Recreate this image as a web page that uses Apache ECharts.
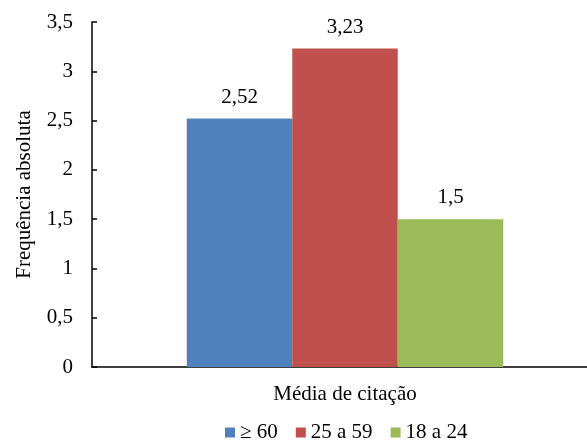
<!DOCTYPE html>
<html>
<head>
<meta charset="utf-8">
<script src="https://cdn.jsdelivr.net/npm/echarts@6/dist/echarts.min.js"></script>
<style>
  html, body { margin: 0; padding: 0; background: #fff; }
  #chart { width: 587px; height: 448px; }
</style>
</head>
<body>
<div id="chart"></div>
<script>
// Mean citation by age group
const categories = ['Média de citação'];
const seriesNames = ['\u2265 60', '25 a 59', '18 a 24'];
const seriesValues = [[2.52], [3.23], [1.5]];
const seriesColors = ['#4F81BD', '#C0504D', '#9BBB59'];
const yTicks = { min: 0, max: 3.5, interval: 0.5 };

const fontFamily = '"Liberation Serif", "Times New Roman", serif';
const fmt = v => String(v).replace('.', ',');

const chart = echarts.init(document.getElementById('chart'));
chart.setOption({
  animation: false,
  textStyle: { fontFamily: fontFamily, color: '#000' },
  // the x axis runs past the right edge of the canvas
  grid: { left: 92, width: 506, top: 22, height: 345, containLabel: false, outerBoundsMode: 'none' },
  legend: {
    bottom: 0,
    left: 220,
    itemWidth: 10,
    itemHeight: 10,
    itemGap: 18,
    icon: 'rect',
    textStyle: { fontFamily: fontFamily, fontSize: 21, color: '#000' },
    data: seriesNames
  },
  xAxis: {
    type: 'category',
    data: categories,
    axisLine: { lineStyle: { color: '#000', width: 1.5 } },
    axisTick: { show: false },
    axisLabel: { fontFamily: fontFamily, fontSize: 21, color: '#000', margin: 17 }
  },
  yAxis: {
    type: 'value',
    min: yTicks.min,
    max: yTicks.max,
    interval: yTicks.interval,
    name: 'Frequência absoluta',
    nameLocation: 'middle',
    nameGap: 57,
    nameTextStyle: { fontFamily: fontFamily, fontSize: 21, color: '#000' },
    axisLine: { show: true, lineStyle: { color: '#000', width: 1.5 } },
    axisTick: { show: true, inside: true, length: 5, lineStyle: { color: '#000', width: 1.5 } },
    splitLine: { show: false },
    axisLabel: { fontFamily: fontFamily, fontSize: 21, color: '#000', margin: 19, formatter: fmt }
  },
  series: seriesNames.map((name, i) => ({
    name: name,
    type: 'bar',
    data: seriesValues[i],
    barWidth: 105.5,
    barGap: '0%',
    itemStyle: { color: seriesColors[i] },
    label: {
      show: true,
      position: 'top',
      distance: 11,
      fontFamily: fontFamily,
      fontSize: 21,
      color: '#000',
      formatter: p => fmt(p.value)
    }
  }))
});
</script>
</body>
</html>
